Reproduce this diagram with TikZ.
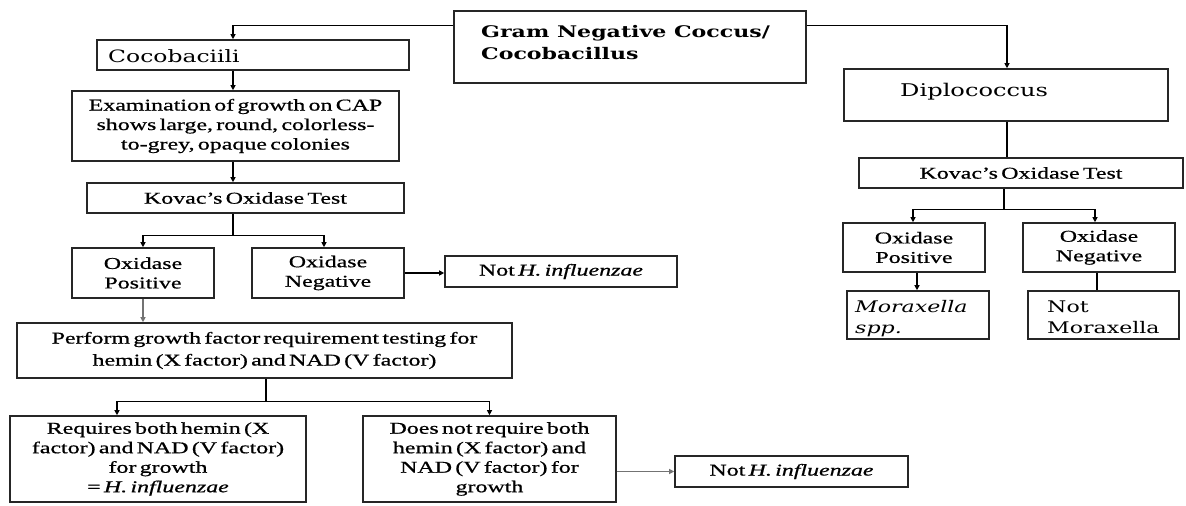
\documentclass[tikz,border=0pt]{standalone}
\usepackage{fontspec}
\setmainfont{Liberation Serif}[FakeStretch=1.45,WordSpace=0.55,FakeBold=0.7]
\newfontfamily\camb{DejaVu Serif}[FakeStretch=1.38]
\usetikzlibrary{arrows.meta,calc}
\begin{document}
\begin{tikzpicture}[x=1bp,y=-1bp,
  box/.style={draw=black!85,line width=1.6bp,inner sep=0pt,align=center,
    font=\fontsize{16.5bp}{19.5bp}\selectfont},
  lbl/.style={anchor=base west,inner sep=0pt},
  arr/.style={line width=1.1bp,-{Triangle[length=5bp,width=5bp]}},
  ln/.style={line width=1.1bp}]
\fill[white] (0,0) rectangle (1186,506);
\useasboundingbox (0,0) rectangle (1186,506);

% left branch
\node[box,minimum width=352bp,minimum height=72bp] (gram) at (630,47) {};
\node[lbl,font=\camb\bfseries\fontsize{16bp}{20bp}\selectfont] (gramA) at (481,38) {Gram Negative Coccus/};
\node[lbl,font=\camb\bfseries\fontsize{16bp}{20bp}\selectfont] (gramB) at (481,60) {Cocobacillus};

\node[box,minimum width=312bp,minimum height=30bp] (coco) at (253,55) {};
\node[lbl,font=\camb\fontsize{17bp}{20bp}\selectfont] (cocoT) at (108,63) {Cocobaciili};

\node[box,minimum width=327bp,minimum height=70bp] (exam) at (235.5,126)
  {Examination of growth on CAP\\shows large, round, colorless-\\to-grey, opaque colonies};
\node[box,minimum width=317bp,minimum height=30bp] (kovL) at (245.5,198) {Kovac’s Oxidase Test};
\node[box,minimum width=142bp,minimum height=50bp] (oxposL) at (143,273) {Oxidase\\Positive};
\node[box,minimum width=152bp,minimum height=50bp] (oxnegL) at (328,273) {Oxidase\\Negative};
\node[box,minimum width=232bp,minimum height=31bp] (notHa) at (561,271.5) {Not \textit{H. influenzae}};
\node[box,minimum width=495bp,minimum height=55bp,font=\fontsize{16.5bp}{22bp}\selectfont] (perf) at (264.5,350.5)
  {Perform growth factor requirement testing for\\hemin (X factor) and NAD (V factor)};
\node[box,minimum width=296bp,minimum height=86bp] (req) at (158,459)
  {Requires both hemin (X\\factor) and NAD (V factor)\\for growth\\= \textit{H. influenzae}};
\node[box,minimum width=253bp,minimum height=86bp] (dnr) at (489.5,459)
  {Does not require both\\hemin (X factor) and\\NAD (V factor) for\\growth};
\node[box,minimum width=233bp,minimum height=31bp] (notHb) at (791.5,471.5) {Not \textit{H. influenzae}};

% right branch
\node[box,minimum width=324bp,minimum height=52bp] (diplo) at (1006,95) {};
\node[lbl,font=\camb\fontsize{17.5bp}{20bp}\selectfont] (diploT) at (900,97) {Diplococcus};
\node[box,minimum width=324bp,minimum height=30bp] (kovR) at (1021,173) {Kovac’s Oxidase Test};
\node[box,minimum width=142bp,minimum height=49bp] (oxposR) at (914,247.5) {Oxidase\\Positive};
\node[box,minimum width=152bp,minimum height=49bp] (oxnegR) at (1099,247.5) {Oxidase\\Negative};
\node[box,minimum width=142bp,minimum height=48bp] (mora) at (918,315) {};
\node[lbl,font=\camb\itshape\fontsize{16bp}{20bp}\selectfont] (moraA) at (855,313) {Moraxella};
\node[lbl,font=\camb\itshape\fontsize{16bp}{20bp}\selectfont] (moraB) at (855,334) {spp.};
\node[box,minimum width=151bp,minimum height=48bp] (nmora) at (1103.5,315) {};
\node[lbl,font=\camb\fontsize{16bp}{20bp}\selectfont] (nmoraA) at (1047,313) {Not};
\node[lbl,font=\camb\fontsize{16bp}{20bp}\selectfont] (nmoraB) at (1047,334) {Moraxella};

% connectors
\coordinate (gL) at ([yshift=-15bp]gram.north west);
\coordinate (gR) at ([yshift=-15bp]gram.north east);
\draw[arr] (gL) -| ([xshift=-20bp]coco.north);
\draw[arr] (gR) -| ([xshift=1bp]diplo.north);
\draw[arr] ([xshift=-20bp]coco.south) -- ([xshift=-20bp]coco.south |- exam.north);
\draw[arr] ([xshift=-2.5bp]exam.south) -- ([xshift=-2.5bp]exam.south |- kovL.north);
\draw[ln] ([xshift=-12.5bp]kovL.south) -- ++(0,22) coordinate (bL);
\draw[arr] (bL) -| (oxposL.north);
\draw[arr] (bL) -| ([xshift=-4bp]oxnegL.north);
\draw[arr] (oxnegL.east) -- (oxnegL.east -| notHa.west);
\draw[arr,draw=black!55] (oxposL.south) -- (oxposL.south |- perf.north);
\draw[ln] ([xshift=1.5bp]perf.south) -- ++(0,23) coordinate (bP);
\draw[arr] (bP) -| ([xshift=-41bp]req.north);
\draw[arr] (bP) -| (dnr.north);
\draw[arr,draw=black!55] (notHb.west -| dnr.east) -- (notHb.west);
\draw[ln] ([xshift=1bp]diplo.south) -- ([xshift=1bp]diplo.south |- kovR.north);
\draw[ln] ([xshift=-17bp]kovR.south) -- ++(0,21) coordinate (bR);
\draw[arr] (bR) -| ([xshift=-1bp]oxposR.north);
\draw[arr] (bR) -| ([xshift=-4bp]oxnegR.north);
\draw[arr,line width=2.2bp] ([xshift=3bp]oxposR.south) -- ([xshift=3bp]oxposR.south |- mora.north);
\draw[line width=2.5bp] ([xshift=-2bp]oxnegR.south) -- ([xshift=-2bp]oxnegR.south |- nmora.north);
\end{tikzpicture}
\end{document}
